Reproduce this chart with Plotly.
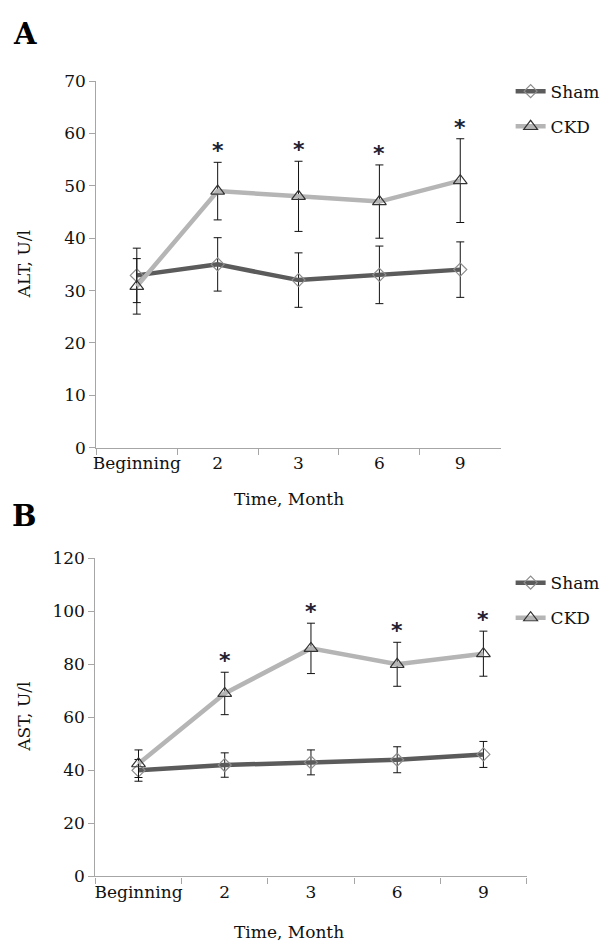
import plotly.graph_objects as go

# ---------------- data ----------------
categories = ["Beginning", "2", "3", "6", "9"]

alt_sham = [32.9, 35, 32, 33, 34]
alt_sham_sd = [5.2, 5.1, 5.2, 5.5, 5.3]
alt_ckd = [30.8, 49, 48, 47, 51]
alt_ckd_sd = [5.3, 5.5, 6.7, 7.0, 8.0]

ast_sham = [40, 42, 43, 44, 46]
ast_sham_sd = [4.1, 4.6, 4.7, 4.9, 4.9]
ast_ckd = [42.5, 69, 86, 80, 84]
ast_ckd_sd = [5.2, 8.0, 9.5, 8.3, 8.5]

significant = [False, True, True, True, True]

series_names = ["Sham", "CKD"]
panel_letters = ["A", "B"]
y_titles = ["ALT, U/l", "AST, U/l"]
x_title = "Time, Month"
y_ranges = [[0, 70], [0, 120]]
y_dticks = [10, 20]

# ---------------- style ----------------
FONT = "DejaVu Serif"
SHAM_COLOR = "#5b5b5b"
CKD_COLOR = "#b5b5b5"
AXIS_COLOR = "#a6a6a6"
W, H = 605, 952

fig = go.Figure()

panels = [
    dict(sham=alt_sham, sham_sd=alt_sham_sd, ckd=alt_ckd, ckd_sd=alt_ckd_sd,
         xa="x", ya="y", legend="legend"),
    dict(sham=ast_sham, sham_sd=ast_sham_sd, ckd=ast_ckd, ckd_sd=ast_ckd_sd,
         xa="x2", ya="y2", legend="legend2"),
]

for p in panels:
    fig.add_trace(go.Scatter(
        x=categories, y=p["sham"], name=series_names[0],
        mode="lines+markers", xaxis=p["xa"], yaxis=p["ya"],
        legend=p["legend"], legendgroup=p["legend"] + "s",
        line=dict(color=SHAM_COLOR, width=4.5),
        marker=dict(symbol="diamond-open", size=10, color="#8c8c8c",
                    line=dict(width=1.2)),
        error_y=dict(type="data", array=p["sham_sd"], visible=True,
                     color="#111111", thickness=1, width=4),
    ))
    fig.add_trace(go.Scatter(
        x=categories, y=p["ckd"], name=series_names[1],
        mode="lines+markers", xaxis=p["xa"], yaxis=p["ya"],
        legend=p["legend"], legendgroup=p["legend"] + "c",
        line=dict(color=CKD_COLOR, width=4.5),
        marker=dict(symbol="triangle-up-open", size=12, color="#333333",
                    line=dict(width=1.2)),
        error_y=dict(type="data", array=p["ckd_sd"], visible=True,
                     color="#111111", thickness=1, width=4),
    ))

annotations = []
for p in panels:
    for idx, (m, s, sig) in enumerate(zip(p["ckd"], p["ckd_sd"], significant)):
        if sig:
            annotations.append(dict(
                x=idx, y=m + s, xref=p["xa"], yref=p["ya"], text="<b>*</b>",
                showarrow=False, yanchor="bottom", yshift=-3,
                font=dict(family="DejaVu Sans", size=22, color="#1c2233"),
            ))

# panel letters, axis titles
letter_pos = [(22, 25), (22, 517)]
xtitle_pos = [(288, 500), (288, 942)]
ytitle_pos = [(21, 260), (21, 722)]
for i in range(2):
    annotations.append(dict(
        x=letter_pos[i][0] / W, y=1 - letter_pos[i][1] / H, xref="paper", yref="paper",
        text="<b>%s</b>" % panel_letters[i], showarrow=False,
        xanchor="center", yanchor="middle",
        font=dict(family=FONT, size=29, color="#000000")))
    annotations.append(dict(
        x=xtitle_pos[i][0] / W, y=1 - xtitle_pos[i][1] / H, xref="paper", yref="paper",
        text=x_title, showarrow=False, xanchor="center", yanchor="middle",
        font=dict(family=FONT, size=17, color="#111111")))
    annotations.append(dict(
        x=ytitle_pos[i][0] / W, y=1 - ytitle_pos[i][1] / H, xref="paper", yref="paper",
        text=y_titles[i], showarrow=False, textangle=-90,
        xanchor="center", yanchor="middle",
        font=dict(family=FONT, size=17, color="#111111")))

xaxis_common = dict(
    type="category", range=[-0.5, 4.5], tickson="boundaries",
    ticks="outside", ticklen=6, tickcolor=AXIS_COLOR, tickwidth=1,
    tickangle=0,
    showline=True, linecolor=AXIS_COLOR, linewidth=1.3,
    showgrid=False, zeroline=False, fixedrange=True,
    tickfont=dict(family=FONT, size=17, color="#111111"),
)
yaxis_common = dict(
    ticks="outside", ticklen=6, tickcolor=AXIS_COLOR, tickwidth=1,
    showline=True, linecolor=AXIS_COLOR, linewidth=1.3,
    showgrid=False, zeroline=False, fixedrange=True,
    tickfont=dict(family=FONT, size=17, color="#111111"),
)

legend_common = dict(
    font=dict(family=FONT, size=17, color="#111111"),
    bgcolor="rgba(0,0,0,0)", borderwidth=0,
    xanchor="left", yanchor="top", tracegroupgap=10, itemwidth=30,
)

fig.update_layout(
    width=W, height=H,
    margin=dict(l=0, r=0, t=0, b=0),
    paper_bgcolor="white", plot_bgcolor="white",
    showlegend=True,
    xaxis=dict(xaxis_common, domain=[94 / W, 501 / W], anchor="y"),
    yaxis=dict(yaxis_common, domain=[1 - 447 / H, 1 - 72.7 / H], anchor="x",
               range=y_ranges[0], dtick=y_dticks[0]),
    xaxis2=dict(xaxis_common, domain=[93 / W, 527 / W], anchor="y2"),
    yaxis2=dict(yaxis_common, domain=[1 - 885 / H, 1 - 560 / H], anchor="x2",
                range=y_ranges[1], dtick=y_dticks[1]),
    legend=dict(legend_common, x=511 / W, y=1 - 65 / H),
    legend2=dict(legend_common, x=511 / W, y=1 - 567 / H),
    annotations=annotations,
)

fig.write_html("out.html")
